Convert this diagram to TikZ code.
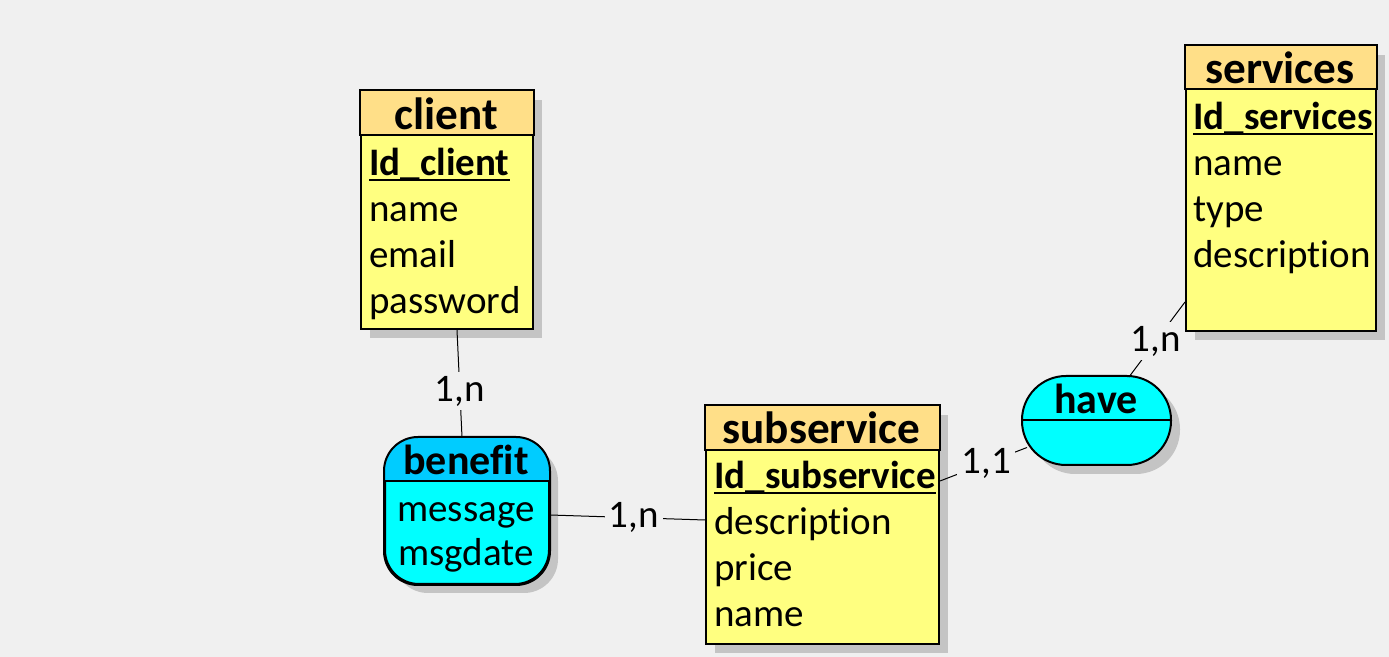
\documentclass[tikz,border=0pt]{standalone}
\usepackage{fontspec}
\setmainfont[Ligatures={NoCommon}]{Carlito}
\usepackage{tikz}
\usetikzlibrary{calc,shadows}
\definecolor{bgcol}{HTML}{F0F0F0}
\definecolor{entbody}{HTML}{FFFF80}
\definecolor{enthead}{HTML}{FFDF88}
\definecolor{relbody}{HTML}{00FFFF}
\definecolor{relhead}{HTML}{00CCFF}
\definecolor{shadowgray}{HTML}{C4C4C4}
\tikzset{
  ent_box/.style = {draw=black, line width=1pt, fill=entbody, inner sep=0pt,
    drop shadow={shadow xshift=4.5pt, shadow yshift=-4.5pt, fill=shadowgray, opacity=1}},% entite
  ent_head/.style = {draw=black, line width=1pt, fill=enthead},
  ent_title/.style = {anchor=base, inner sep=0pt, font=\fontsize{22.6}{26}\selectfont\bfseries},
  attr/.style = {anchor=base west, inner sep=0pt, font=\fontsize{19.5}{23}\selectfont},
  attr_key/.style = {attr, font=\fontsize{19.5}{23}\selectfont\bfseries},
  key_line/.style = {line width=1pt},
  rel_box/.style = {draw=black, line width=1pt, fill=relbody, inner sep=0pt,
    drop shadow={shadow xshift=4.5pt, shadow yshift=-4.5pt, fill=shadowgray, opacity=1}},% association
  rel_title/.style = {anchor=base, inner sep=0pt, font=\fontsize{21}{24}\selectfont\bfseries},
  rel_attr/.style = {anchor=base, inner sep=0pt, font=\fontsize{19.5}{23}\selectfont},
  link/.style = {draw=black, line width=0.5pt},
  card/.style = {fill=bgcol, inner sep=2pt, font=\fontsize{19.5}{23}\selectfont}
}
\begin{document}
\begin{tikzpicture}[x=0.5pt, y=-0.5pt]
  \path[use as bounding box, fill=bgcol] (0,0) rectangle (1389,657);

  % client
  \node[ent_box, anchor=north west, minimum width=86pt, minimum height=119pt] (client) at (360,90) {};
  \draw[ent_head] (client.north west) rectangle ($(client.north east)+(0,45)$);
  \node[ent_title] at (446,129.5) {client};
  \node[attr_key] (idclient) at (369,175.5) {Id\_client};
  \draw[key_line] ([yshift=-2.5pt]idclient.base west) -- ([yshift=-2.5pt]idclient.base east);
  \node[attr] at (369,221.5) {name};
  \node[attr] at (369,267.5) {email};
  \node[attr] at (369,313.5) {password};

  % services
  \node[ent_box, anchor=north west, minimum width=95pt, minimum height=142.5pt] (services) at (1185,45) {};
  \draw[ent_head] (services.north west) rectangle ($(services.north east)+(0,44)$);
  \node[ent_title] at (1280,84) {services};
  \node[attr_key] (idservices) at (1193,129.5) {Id\_services};
  \draw[key_line] ([yshift=-2.5pt]idservices.base west) -- ([yshift=-2.5pt]idservices.base east);
  \node[attr] at (1193,175.5) {name};
  \node[attr] at (1193,221.5) {type};
  \node[attr] at (1193,267.5) {description};

  % subservice
  \node[ent_box, anchor=north west, minimum width=116.5pt, minimum height=119pt] (subservice) at (705,405) {};
  \draw[ent_head] (subservice.north west) rectangle ($(subservice.north east)+(0,45)$);
  \node[ent_title] at (821.5,443.5) {subservice};
  \node[attr_key] (idsubservice) at (714,488.5) {Id\_subservice};
  \draw[key_line] ([yshift=-2.5pt]idsubservice.base west) -- ([yshift=-2.5pt]idsubservice.base east);
  \node[attr] at (714,534.5) {description};
  \node[attr] at (714,580.5) {price};
  \node[attr] at (714,626.5) {name};

  % benefit
  \node[rel_box, rounded corners=17pt, anchor=north west, minimum width=82pt, minimum height=73pt] (benefit) at (384,437) {};
  \begin{scope}
    \clip[rounded corners=17pt] (benefit.north west) rectangle (benefit.south east);
    \fill[relhead] (benefit.north west) rectangle ($(benefit.north east)+(0,44)$);
  \end{scope}
  \draw[line width=1pt] ($(benefit.north west)+(0,44)$) -- ($(benefit.north east)+(0,44)$);
  \draw[line width=1pt, rounded corners=17pt] (benefit.north west) rectangle (benefit.south east);
  \node[rel_title] at (466,474.5) {benefit};
  \node[rel_attr] at (466,521.5) {message};
  \node[rel_attr] at (466,565.5) {msgdate};

  % have
  \node[rel_box, rounded corners=22pt, anchor=north west, minimum width=74.5pt, minimum height=44.5pt] (have) at (1021,375) {};
  \draw[line width=1pt] (have.west) -- (have.east);
  \node[rel_title] at (1096,413.5) {have};

  % liens
  \draw[link] ([xshift=5pt]client.south) -- node[card, pos=0.57] {1,n} ([xshift=-2.5pt]benefit.north);
  \draw[link] ([yshift=-2pt]benefit.east) -- node[card, pos=0.54] {1,n} ([yshift=2.5pt]subservice.west);
  \draw[link] ([yshift=22pt]subservice.east) -- node[card, pos=0.53] {1,1} ([shift={(6,27)}]have.west);
  \draw[link] ([shift={(32.5,2)}]have.north) -- node[card, pos=0.48] {1,n} ($(services.south west)+(0,-30)$);
\end{tikzpicture}
\end{document}
